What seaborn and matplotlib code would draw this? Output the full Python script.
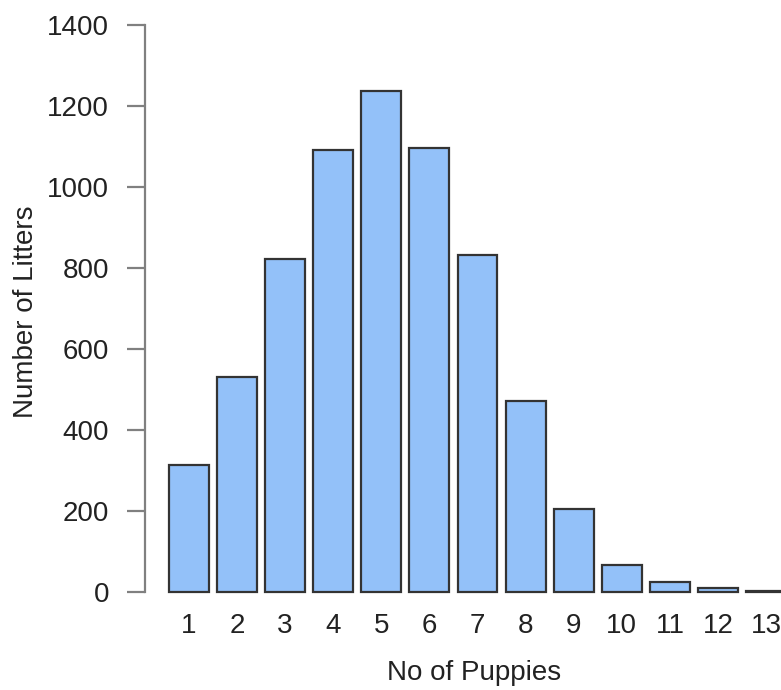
import matplotlib
matplotlib.use("Agg")
import matplotlib.pyplot as plt
import seaborn as sns
import pandas as pd

puppies = ["1", "2", "3", "4", "5", "6", "7", "8", "9", "10", "11", "12", "13"]
litters = [313, 530, 822, 1091, 1238, 1097, 831, 472, 204, 67, 25, 10, 3]
y_ticks = [0, 200, 400, 600, 800, 1000, 1200, 1400]

df = pd.DataFrame({"puppies": puppies, "litters": litters})

sns.set_style("white")
plt.rcParams["font.family"] = ["Liberation Sans", "DejaVu Sans"]

fig = plt.figure(figsize=(7.81, 6.9), dpi=100)
ax = fig.add_axes([145 / 781, 0.1303, 1 - 145 / 781, 0.8452])

sns.barplot(data=df, x="puppies", y="litters", order=puppies, color="#93C1F9",
            saturation=1, width=0.83, edgecolor="#333333", linewidth=1.6, ax=ax)

ax.set_xlim(-0.913, 12.31)
ax.set_ylim(-20, 1420)
ax.set_yticks(y_ticks)
ax.set_yticklabels([str(v) for v in y_ticks])

for s in ["top", "right", "bottom"]:
    ax.spines[s].set_visible(False)
ax.spines["left"].set_bounds(0, 1400)
ax.spines["left"].set_color("#808080")
ax.spines["left"].set_linewidth(1.6)

ax.tick_params(axis="y", length=13, width=1.6, color="#808080", pad=13,
               labelsize=20, labelcolor="#222222", left=True)
ax.tick_params(axis="x", length=0, pad=9, labelsize=20, labelcolor="#222222")

ax.set_xlabel("No of Puppies", fontsize=20, color="#222222", va="baseline")
ax.xaxis.set_label_coords((474 - 145) / 636, -0.137)
ax.set_ylabel("Number of Litters", fontsize=20, color="#222222")
ax.yaxis.set_label_coords(-0.1667, 0.494)

fig.savefig("out.png", dpi=100, facecolor="white")
